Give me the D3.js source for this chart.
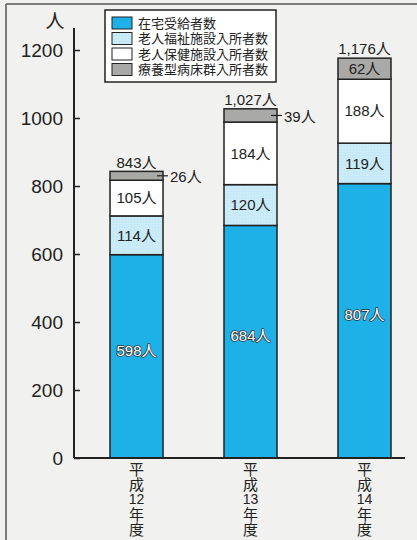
<!DOCTYPE html>
<html><head><meta charset="utf-8">
<script src="https://cdn.jsdelivr.net/npm/d3@7"></script>
<style>
html,body{margin:0;padding:0;background:#f1f1ef;}
svg{display:block;font-family:"Liberation Sans","Noto Sans CJK JP",sans-serif;}
.vcat{writing-mode:vertical-rl;text-orientation:upright;}
</style></head><body>
<svg id="c" width="417" height="540"></svg>
<script>
const categories = ["平成12年度","平成13年度","平成14年度"];
const catEra = "平成";
const catYears = ["12","13","14"];
const catSuffix = "年度";
const seriesNames = ["在宅受給者数","老人福祉施設入所者数","老人保健施設入所者数","療養型病床群入所者数"];
const zaitaku = [598, 684, 807];
const fukushi = [114, 120, 119];
const hoken = [105, 184, 188];
const ryoyo = [26, 39, 62];
const totals = ["843人","1,027人","1,176人"];
const yTicks = [0, 200, 400, 600, 800, 1000, 1200];
const unitLabel = "人";

const colors = ["#1db1e8", "url(#dots)", "#ffffff", "#a9a9a7"];

const svg = d3.select("#c");
const defs = svg.append("defs");
const pat = defs.append("pattern").attr("id","dots").attr("width",3).attr("height",3).attr("patternUnits","userSpaceOnUse");
pat.append("rect").attr("width",3).attr("height",3).attr("fill","#c6e9f8");
pat.append("circle").attr("cx",1).attr("cy",1).attr("r",0.6).attr("fill","#e9f7fd");

// frame
svg.append("line").attr("x1",6).attr("x2",417).attr("y1",4).attr("y2",4).attr("stroke","#555").attr("stroke-width",1.5);
svg.append("line").attr("x1",6).attr("x2",6).attr("y1",4).attr("y2",540).attr("stroke","#555").attr("stroke-width",1.5);

const y = d3.scaleLinear().domain([0,1200]).range([458,50]);
const x = d3.scaleBand().domain(categories).range([74,427]).paddingInner(0.535).paddingOuter(0.316);

const data = categories.map((c,i)=>({cat:c, vals:[zaitaku[i],fukushi[i],hoken[i],ryoyo[i]]}));
const stackData = data.map(d=>{const o={cat:d.cat}; seriesNames.forEach((s,k)=>o[s]=d.vals[k]); return o;});
const stacked = d3.stack().keys(seriesNames)(stackData);

// y axis
const yAxis = d3.axisRight(y).tickValues(yTicks).tickSize(6).tickFormat("");
const ya = svg.append("g").attr("transform","translate(74,0)").call(yAxis);
ya.select(".domain").remove();
ya.selectAll(".tick line").attr("stroke","#222").attr("stroke-width",1.5);
svg.append("line").attr("x1",74).attr("x2",74).attr("y1",28).attr("y2",458).attr("stroke","#222").attr("stroke-width",2);
svg.selectAll(".ytl").data(yTicks).enter().append("text")
  .attr("x",63).attr("y",d=>y(d)).attr("dy","0.35em").attr("text-anchor","end")
  .attr("font-size",19).attr("fill","#222").text(d=>d);
svg.append("text").attr("x",55).attr("y",28).attr("text-anchor","middle").attr("font-size",19)
  .attr("font-family","Noto Sans CJK JP").attr("fill","#222").text(unitLabel);

// bars
stacked.forEach((layer,k)=>{
  svg.append("g").selectAll("rect").data(layer).enter().append("rect")
    .attr("x",d=>x(d.data.cat)).attr("width",x.bandwidth())
    .attr("y",d=>y(d[1])).attr("height",d=>y(d[0])-y(d[1]))
    .attr("fill",colors[k]).attr("stroke","#222").attr("stroke-width",1.5);
});

// x axis
svg.append("line").attr("x1",74).attr("x2",405).attr("y1",458).attr("y2",458).attr("stroke","#222").attr("stroke-width",2);

// segment labels (first three)
stacked.slice(0,3).forEach((layer,k)=>{
  svg.append("g").selectAll("text").data(layer).enter().append("text")
    .attr("x",d=>x(d.data.cat)+x.bandwidth()/2)
    .attr("y",d=>(y(d[0])+y(d[1]))/2 - (k===0?6:0)).attr("dy","0.35em")
    .attr("text-anchor","middle").attr("font-size",15)
    .attr("fill", k===0 ? "#fff" : "#222")
    .attr("stroke", k===0 ? "#333" : "none").attr("stroke-width", k===0?1.6:0)
    .attr("paint-order","stroke").attr("stroke-linejoin","round")
    .text(d=>(d[1]-d[0])+"人");
});
// top layer labels
const topLayer = stacked[3];
topLayer.forEach((d,i)=>{
  const cx = x(d.data.cat)+x.bandwidth()/2;
  const cy = (y(d[0])+y(d[1]))/2;
  if (i===2) {
    svg.append("text").attr("x",cx).attr("y",cy).attr("dy","0.35em").attr("text-anchor","middle")
      .attr("font-size",15).attr("fill","#222").text((d[1]-d[0])+"人");
  } else {
    const xr = x(d.data.cat)+x.bandwidth();
    svg.append("line").attr("x1",xr-6).attr("x2",xr+5).attr("y1",cy).attr("y2",cy).attr("stroke","#222").attr("stroke-width",1.2);
    svg.append("text").attr("x",xr+7).attr("y",cy+1).attr("dy","0.35em").attr("text-anchor","start")
      .attr("font-size",15).attr("fill","#222").text((d[1]-d[0])+"人");
  }
  svg.append("text").attr("x",cx).attr("y",y(d[1])-9).attr("dy","0.35em").attr("text-anchor","middle")
    .attr("font-size",15).attr("fill","#222").text(totals[i]);
});

// category labels (vertical CJK + horizontal digits)
categories.forEach((c,i)=>{
  const cx = x(c)+x.bandwidth()/2;
  svg.append("text").attr("class","vcat").attr("x",cx).attr("y",462)
    .attr("font-size",15).attr("letter-spacing",-0.7).attr("fill","#222")
    .attr("font-family","Noto Sans CJK JP").text(catEra);
  svg.append("text").attr("x",cx).attr("y",499.5).attr("dy","0.35em").attr("text-anchor","middle")
    .attr("font-size",14).attr("fill","#222").attr("font-family","Liberation Sans").text(catYears[i]);
  svg.append("text").attr("class","vcat").attr("x",cx).attr("y",507)
    .attr("font-size",15).attr("letter-spacing",-0.7).attr("fill","#222")
    .attr("font-family","Noto Sans CJK JP").text(catSuffix);
});

// legend
const lg = svg.append("g");
lg.append("rect").attr("x",105).attr("y",10).attr("width",171).attr("height",72).attr("fill","#fff").attr("stroke","#222").attr("stroke-width",1.5);
seriesNames.forEach((s,k)=>{
  const cy = 23 + k*15.5;
  lg.append("rect").attr("x",112).attr("y",cy-6).attr("width",20).attr("height",12)
    .attr("fill",colors[k]).attr("stroke","#222").attr("stroke-width",1);
  lg.append("text").attr("x",138).attr("y",cy).attr("dy","0.35em").attr("font-size",13)
    .attr("font-family","'Liberation Sans','Noto Sans CJK JP'").attr("fill","#222").text(s);
});
</script></body></html>
